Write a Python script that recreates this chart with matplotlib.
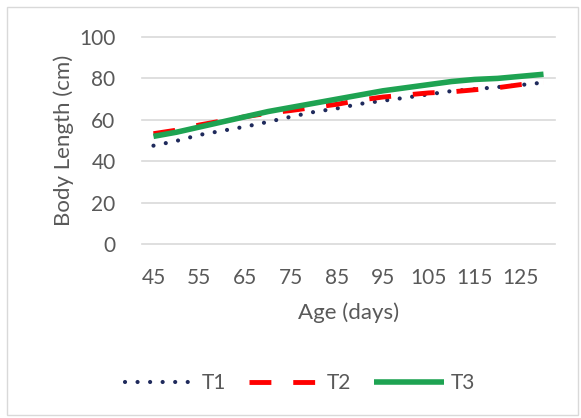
import matplotlib
matplotlib.use("Agg")
import matplotlib.pyplot as plt
from matplotlib.patches import Rectangle

plt.rcParams['font.family'] = ['Lato', 'DejaVu Sans']

# age in days, one point every 5 days
age = [45, 50, 55, 60, 65, 70, 75, 80, 85, 90, 95, 100, 105, 110, 115, 120, 125, 130]
t1 = [47.5, 49.8, 52.7, 54.7, 56.7, 59.0, 61.5, 63.8, 65.5, 67.7, 69.2, 70.7, 72.3, 73.9, 74.8, 75.8, 76.8, 78.0]
t2 = [53.3, 55.0, 57.5, 59.5, 61.5, 63.2, 64.5, 66.0, 67.5, 69.5, 71.0, 72.0, 73.0, 73.5, 74.5, 75.5, 77.0, 78.0]
t3 = [52.0, 54.0, 56.5, 59.0, 61.5, 64.0, 66.0, 68.0, 70.0, 72.0, 74.0, 75.5, 77.0, 78.5, 79.5, 80.0, 81.0, 82.0]
xticks = [45, 55, 65, 75, 85, 95, 105, 115, 125]
yticks = [0, 20, 40, 60, 80, 100]

grey = '#595959'

fig = plt.figure(figsize=(5.81, 4.18), dpi=100)
ax = fig.add_axes([142 / 581, 1 - 244 / 418, 413 / 581, 207 / 418])

l1, = ax.plot(age, t1, color='#1F2A5C', lw=3.0, dashes=(0.01, 3.0),
              dash_capstyle='round', label='T1', zorder=2)
l2, = ax.plot(age, t2, color='#FF0000', lw=3.5, dashes=(4.5, 4.5),
              dash_capstyle='butt', label='T2', zorder=3)
l3, = ax.plot(age, t3, color='#1EA352', lw=4.0, solid_capstyle='butt',
              label='T3', zorder=4)

ax.set_xlim(42.5, 132.5)
ax.set_ylim(0, 100)
ax.set_xticks(xticks)
ax.set_yticks(yticks)
ax.tick_params(length=0, labelsize=15, labelcolor=grey)
ax.tick_params(axis='x', pad=17)
ax.tick_params(axis='y', pad=19)
for s in ax.spines.values():
    s.set_visible(False)
for v in yticks:
    ax.axhline(v, color='#D9D9D9', lw=1.2, zorder=1, clip_on=False)

ax.set_xlabel('Age (days)', fontsize=16, color=grey, labelpad=11)
ax.set_ylabel('Body Length (cm)', fontsize=16, color=grey, labelpad=4)

fig.legend(handles=[l1, l2, l3], loc='center', bbox_to_anchor=(300 / 581, 1 - 383 / 418),
           ncol=3, frameon=False, fontsize=15, labelcolor=grey,
           handlelength=3.4, handletextpad=0.3, columnspacing=1.1)

fig.patches.append(Rectangle((7 / 581, 3 / 418), 571 / 581, 408 / 418,
                             transform=fig.transFigure, fill=False,
                             edgecolor='#D9D9D9', lw=1))

fig.savefig('out.png', dpi=100)
